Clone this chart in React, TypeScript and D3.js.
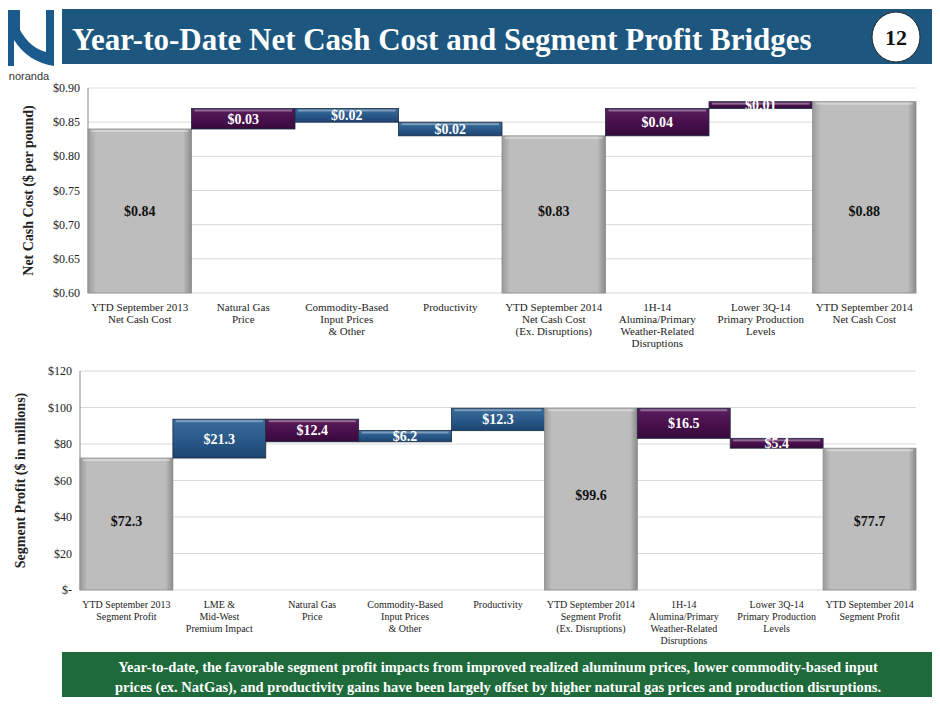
import * as d3 from 'd3';

const topCats = ['YTD September 2013\nNet Cash Cost', 'Natural Gas\nPrice', 'Commodity-Based\nInput Prices\n& Other', 'Productivity', 'YTD September 2014\nNet Cash Cost\n(Ex. Disruptions)', '1H-14\nAlumina/Primary\nWeather-Related\nDisruptions', 'Lower 3Q-14\nPrimary Production\nLevels', 'YTD September 2014\nNet Cash Cost'];
const topLow = [0.6, 0.84, 0.85, 0.83, 0.6, 0.83, 0.87, 0.6];
const topHigh = [0.84, 0.87, 0.87, 0.85, 0.83, 0.87, 0.88, 0.88];
const topKind = ['total', 'up', 'down', 'down', 'total', 'up', 'up', 'total'];
const topLabels = ['$0.84', '$0.03', '$0.02', '$0.02', '$0.83', '$0.04', '$0.01', '$0.88'];
const topTicks = [0.6, 0.65, 0.7, 0.75, 0.8, 0.85, 0.9];

const botCats = ['YTD September 2013\nSegment Profit', 'LME &\nMid-West\nPremium Impact', 'Natural Gas\nPrice', 'Commodity-Based\nInput Prices\n& Other', 'Productivity', 'YTD September 2014\nSegment Profit\n(Ex. Disruptions)', '1H-14\nAlumina/Primary\nWeather-Related\nDisruptions', 'Lower 3Q-14\nPrimary Production\nLevels', 'YTD September 2014\nSegment Profit'];
const botLow = [0, 72.3, 81.2, 81.2, 87.3, 0, 83.1, 77.7, 0];
const botHigh = [72.3, 93.6, 93.6, 87.4, 99.6, 99.6, 99.6, 83.1, 77.7];
const botKind = ['total', 'down', 'up', 'down', 'down', 'total', 'up', 'up', 'total'];
const botLabels = ['$72.3', '$21.3', '$12.4', '$6.2', '$12.3', '$99.6', '$16.5', '$5.4', '$77.7'];
const botTicks = [0, 20, 40, 60, 80, 100, 120];

const fillOf: Record<string, string> = { total: 'url(#gGray)', up: 'url(#gPurple)', down: 'url(#gBlue)' };
const serif = 'Garamond, "Liberation Serif", "DejaVu Serif", serif';

function Bridge(p: { cats: string[]; low: number[]; high: number[]; kind: string[]; labels: string[]; ticks: number[]; domain: [number, number]; x0: number; x1: number; y0: number; y1: number; fmt: (v: number) => string; title: string; labelAt: (i: number) => number; labelSize: number; catSize: number }) {
  const x = d3.scaleBand<number>().domain(d3.range(p.cats.length)).range([p.x0, p.x1]).padding(0);
  const y = d3.scaleLinear().domain(p.domain).range([p.y1, p.y0]);
  return (
    <g>
      {p.ticks.map((t) => (
        <g key={t}>
          <line x1={p.x0} x2={p.x1} y1={y(t)} y2={y(t)} stroke="#d9d9d9" />
          <text x={p.x0 - 8} y={y(t) + 4} textAnchor="end" fontSize={12} fontFamily={serif} fill="#222">{p.fmt(t)}</text>
        </g>
      ))}
      <line x1={p.x0} x2={p.x0} y1={p.y0} y2={p.y1} stroke="#888" />
      {p.cats.map((c, i) => {
        const bx = x(i)!;
        const bw = x.bandwidth();
        const top = y(p.high[i]);
        const h = y(p.low[i]) - top;
        const total = p.kind[i] === 'total';
        return (
          <g key={i}>
            <rect x={bx} y={top} width={bw} height={h} fill={fillOf[p.kind[i]]} stroke={total ? '#8c8c8c' : '#1a2a40'} strokeWidth={0.8} />
            <rect x={bx + 3} y={top + 1} width={bw - 6} height={2} fill="#fff" opacity={0.35} />
            <text x={bx + bw / 2} y={p.labelAt(i)} textAnchor="middle" fontSize={p.labelSize} fontWeight="bold" fontFamily={serif} fill={total ? '#111' : '#fff'}>{p.labels[i]}</text>
            {c.split('\n').map((l, j) => (
              <text key={j} x={bx + bw / 2} y={p.y1 + 18 + j * 12} textAnchor="middle" fontSize={p.catSize} fontFamily={serif} fill="#222">{l}</text>
            ))}
          </g>
        );
      })}
      <text transform={`translate(${p.x0 - 55},${(p.y0 + p.y1) / 2}) rotate(-90)`} textAnchor="middle" fontSize={14} fontWeight="bold" fontFamily={serif} fill="#222">{p.title}</text>
    </g>
  );
}

export default function App() {
  const yTop = d3.scaleLinear().domain([0.6, 0.9]).range([293, 88]);
  const yBot = d3.scaleLinear().domain([0, 120]).range([590, 371]);
  return (
    <svg width={940} height={705} style={{ display: 'block', margin: -8 }}>
      <defs>
        <linearGradient id="gGray" x1="0" x2="1" y1="0" y2="0">
          <stop offset="0" stopColor="#9a9a9a" /><stop offset="0.08" stopColor="#bdbdbd" /><stop offset="0.92" stopColor="#bdbdbd" /><stop offset="1" stopColor="#8a8a8a" />
        </linearGradient>
        <linearGradient id="gBlue" x1="0" x2="0" y1="0" y2="1">
          <stop offset="0" stopColor="#3a6d9c" /><stop offset="0.5" stopColor="#2a5a8a" /><stop offset="1" stopColor="#1c4470" />
        </linearGradient>
        <linearGradient id="gPurple" x1="0" x2="0" y1="0" y2="1">
          <stop offset="0" stopColor="#5a1f5e" /><stop offset="0.5" stopColor="#4a104e" /><stop offset="1" stopColor="#360a3a" />
        </linearGradient>
      </defs>
      <rect width={940} height={705} fill="#fff" />
      {/* logo */}
      <path d="M4 10 L20 10 L20 30 Q30 48 46 52 L46 10 L54 10 L54 66 Q28 62 14 40 L14 66 L4 66 Z" fill="#1b5a8c" />
      <text x={29} y={80} textAnchor="middle" fontSize={11} fontFamily="Arial, sans-serif" fill="#333">noranda</text>
      <rect x={62} y={9} width={872} height={55} fill="#1d577f" />
      <text x={72} y={50} fontSize={31} fontWeight="bold" fontFamily={serif} fill="#fff">Year-to-Date Net Cash Cost and Segment Profit Bridges</text>
      <ellipse cx={896} cy={37} rx={24} ry={25} fill="#fff" stroke="#222" />
      <text x={896} y={45} textAnchor="middle" fontSize={22} fontWeight="bold" fontFamily={serif} fill="#111">12</text>

      <Bridge cats={topCats} low={topLow} high={topHigh} kind={topKind} labels={topLabels} ticks={topTicks} domain={[0.6, 0.9]}
        x0={88} x1={916} y0={88} y1={293} fmt={(v) => `$${v.toFixed(2)}`} title="Net Cash Cost ($ per pound)"
        labelAt={(i) => topKind[i] === 'total' ? yTop(0.72) + 5 : (yTop(topHigh[i]) + yTop(topLow[i])) / 2 + 5} labelSize={14} catSize={11} />

      <Bridge cats={botCats} low={botLow} high={botHigh} kind={botKind} labels={botLabels} ticks={botTicks} domain={[0, 120]}
        x0={80} x1={916} y0={371} y1={590} fmt={(v) => v === 0 ? '$-' : `$${v}`} title="Segment Profit ($ in millions)"
        labelAt={(i) => botKind[i] === 'total' ? yBot(botKind[i] === 'total' && i === 5 ? 52 : 38) + 5 : (yBot(botHigh[i]) + yBot(botLow[i])) / 2 + 5} labelSize={14} catSize={10} />

      <rect x={62} y={652} width={872} height={49} fill="#1e6a3a" />
      <text x={498} y={672} textAnchor="middle" fontSize={14.5} fontWeight="bold" fontFamily={serif} fill="#fff">Year-to-date, the favorable segment profit impacts from improved realized aluminum prices, lower commodity-based input</text>
      <text x={498} y={692} textAnchor="middle" fontSize={14.5} fontWeight="bold" fontFamily={serif} fill="#fff">prices (ex. NatGas), and productivity gains have been largely offset by higher natural gas prices and production disruptions.</text>
    </svg>
  );
}
